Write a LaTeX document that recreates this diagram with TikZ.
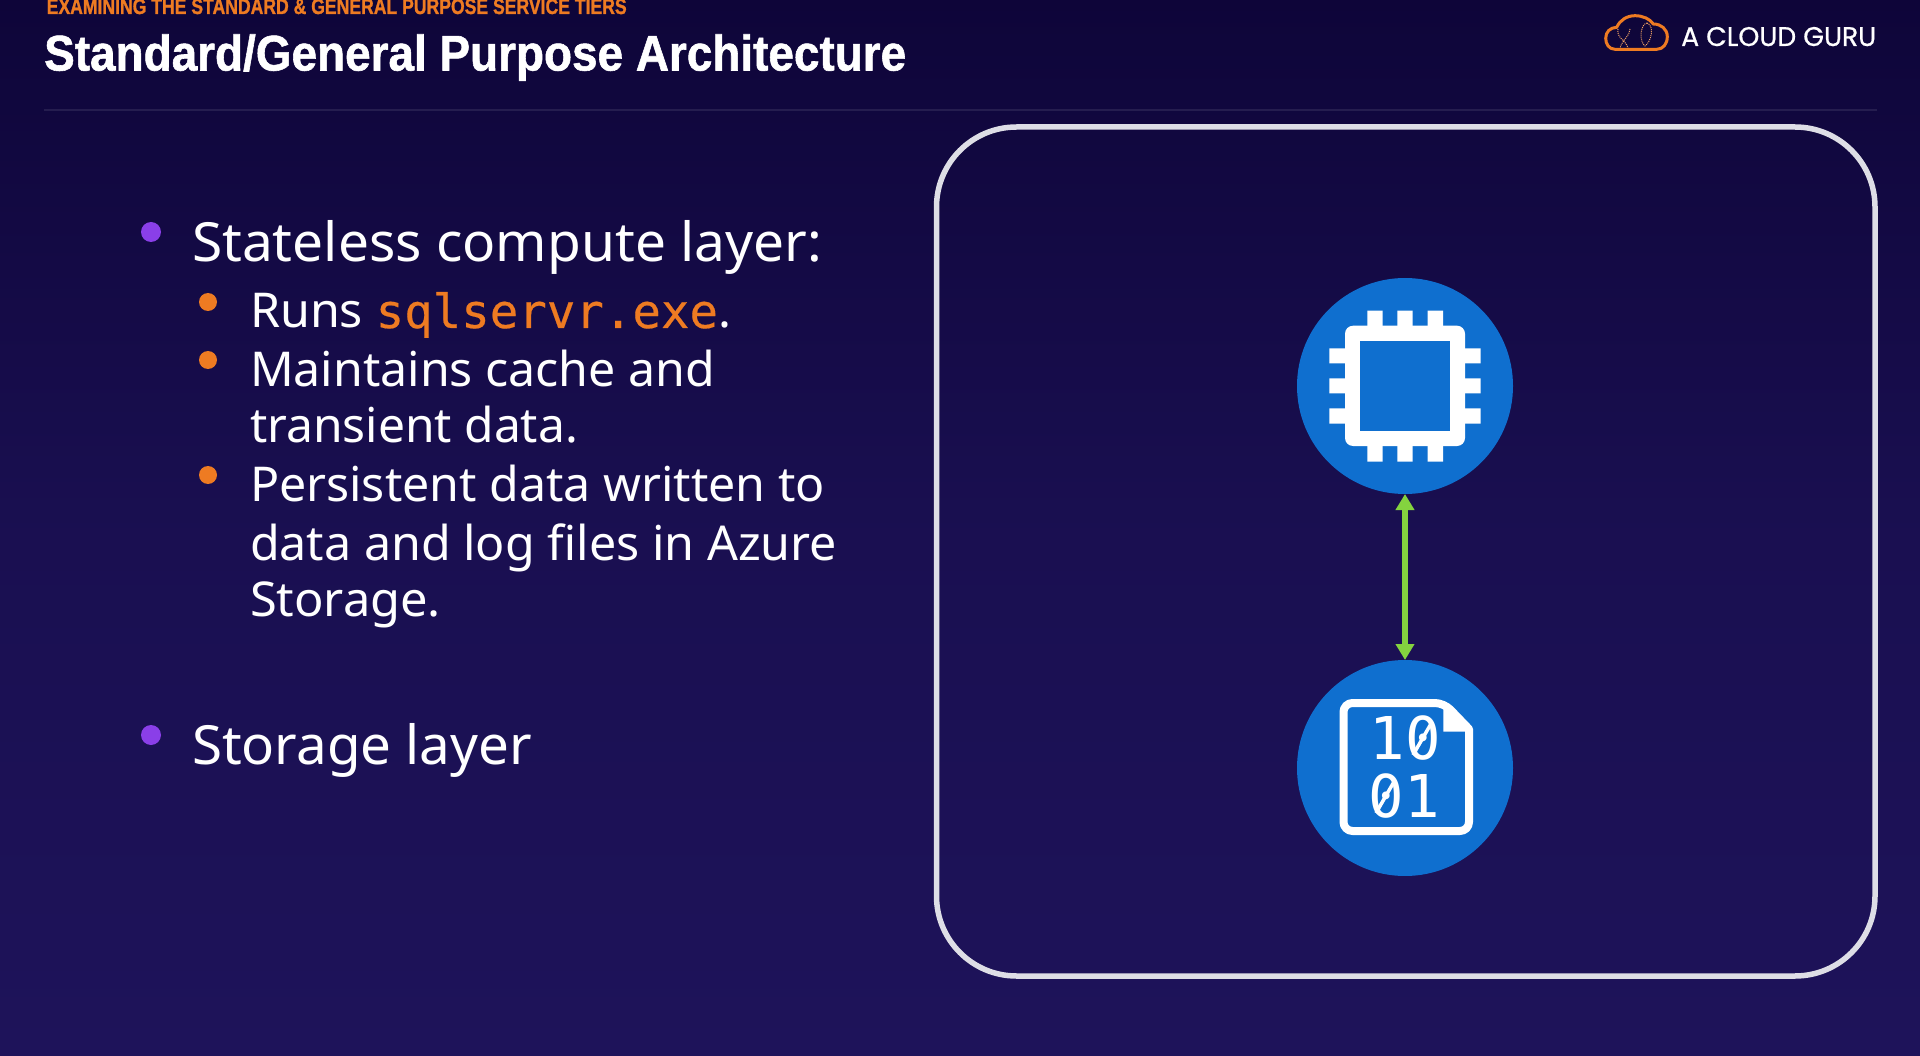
\documentclass[tikz,border=0pt]{standalone}
\usepackage{graphicx}
\usepackage{fontspec}
\setmainfont{Liberation Sans}
\newfontfamily\headface[FakeBold=1.2]{Liberation Sans Bold}
\newfontfamily\bodyfont{Noto Sans}
\newfontfamily\monoface[FakeBold=0.4]{DejaVu Sans Mono}
\newfontfamily\digitface{DejaVu Sans Mono}
\newfontfamily\logoface[FakeBold=0.7]{Poppins}
\usetikzlibrary{arrows.meta}
\definecolor{bgtop}{HTML}{0E0539}
\definecolor{bgbot}{HTML}{1E135A}
\definecolor{acgorange}{HTML}{EE7B22}
\definecolor{acgpurple}{HTML}{8A3FE8}
\definecolor{azblue}{HTML}{0F6FCF}
\definecolor{arrowgreen}{HTML}{84D33F}
\definecolor{framegray}{HTML}{DEDEE6}
\newcommand{\fitw}[2]{\resizebox{#1pt}{\height}{#2}}
\tikzset{
  bodytext/.style={anchor=base west,text=white,inner sep=0pt,outer sep=0pt,font=\bodyfont\fontsize{54}{60}\selectfont},
  subtext/.style={anchor=base west,text=white,inner sep=0pt,outer sep=0pt,font=\bodyfont\fontsize{48}{54}\selectfont},
  dotone/.style={circle,fill=acgpurple,minimum size=20,inner sep=0pt},
  dottwo/.style={circle,fill=acgorange,minimum size=18,inner sep=0pt},
  iconcircle/.style={circle,fill=azblue,minimum size=216,inner sep=0pt,outer sep=0pt},
  digits/.style={anchor=base,text=white,inner sep=0pt,font=\digitface\fontsize{59}{60}\selectfont}
}
\begin{document}
\begin{tikzpicture}[x=1pt,y=-1pt]
\useasboundingbox (0,0) rectangle (1920,1056);
\shade[top color=bgtop,bottom color=bgbot,middle color=bgbot!72!bgtop] (0,0) rectangle (1920,1056);
% header
\node[anchor=base west,inner sep=0pt,text=acgorange,font=\headface\fontsize{22}{24}\selectfont] (kicker) at (46.5,14) {\fitw{580}{EXAMINING THE STANDARD \& GENERAL PURPOSE SERVICE TIERS}};
\node[anchor=base west,inner sep=0pt,text=white,font=\headface\fontsize{50}{52}\selectfont] (title) at (44,70.5) {\fitw{862}{Standard/General Purpose Architecture}};
\fill[white,opacity=.09] (44,109.5) rectangle (1877,111.5);
% logo
\draw[acgorange,line width=3,line join=round] (1615,49.3) .. controls (1609,49.3) and (1605.7,44) .. (1605.7,38.3) .. controls (1605.7,32) and (1610,27.5) .. (1616.7,27.3) .. controls (1620,20) and (1627,15.7) .. (1635,15.7) .. controls (1643,15.7) and (1650,19) .. (1653.3,24) .. controls (1661,24) and (1667.3,29) .. (1667.3,36.7) .. controls (1667.3,44) and (1663,49.3) .. (1656.7,49.3) -- cycle;
\draw[acgorange!70!white,line width=1,densely dotted] (1618,29) .. controls (1616,38) and (1626,40) .. (1628,48) (1630,29) .. controls (1630,36) and (1622,40) .. (1620,48);
\draw[acgorange!70!white,line width=1,densely dotted] (1647,23) .. controls (1640,24) and (1639,42) .. (1645,46) .. controls (1651,42) and (1655,26) .. (1647,23);
\node[anchor=base west,inner sep=0pt,text=white,font=\logoface\fontsize{27}{30}\selectfont] (logo) at (1681,46) {\fitw{195}{A CLOUD GURU}};
% bullets
\node[dotone] (b1) at (151,232) {};
\node[bodytext] (t1) at (192,262) {\fitw{630}{Stateless compute layer:}};
\node[dottwo] (b2) at (208,302) {};
\node[subtext] (t2) at (250,328) {\fitw{481}{Runs {\monoface\fontsize{47}{54}\selectfont\textcolor{acgorange}{sqlservr.exe}}.}};
\node[dottwo] (b3) at (208,360) {};
\node[subtext] (t3) at (250,387) {\fitw{465}{Maintains cache and}};
\node[subtext] (t4) at (250,443) {\fitw{328}{transient data.}};
\node[dottwo] (b4) at (208,475) {};
\node[subtext] (t5) at (250,501) {\fitw{575}{Persistent data written to}};
\node[subtext] (t6) at (250,560) {\fitw{587}{data and log files in Azure}};
\node[subtext] (t7) at (250,616) {\fitw{191}{Storage.}};
\node[dotone] (b5) at (151,735) {};
\node[bodytext] (t8) at (192,764) {\fitw{340}{Storage layer}};
% frame
\draw[framegray,line width=5.5,rounded corners=80] (936.5,127) rectangle (1875,976);
% compute icon
\node[iconcircle] (cpu) at (1405,386) {};
\fill[white] (1367.3,310.7) rectangle +(15.3,151) (1397.3,310.7) rectangle +(15.3,151) (1427.7,310.7) rectangle +(15.3,151);
\fill[white] (1329.3,348.3) rectangle +(151.4,15) (1329.3,378.3) rectangle +(151.4,15) (1329.3,408.3) rectangle +(151.4,15.3);
\fill[white,rounded corners=8] (1345,325.7) rectangle (1465,446);
\fill[azblue] (1360,340.7) rectangle (1450,431);
% storage icon
\node[iconcircle] (file) at (1405,768) {};
\draw[white,line width=8,line join=round,rounded corners=9] (1343.5,703) -- (1444,703) [sharp corners] -- (1469,729) [rounded corners=9] -- (1469,831) -- (1343.5,831) -- cycle;
\fill[white] (1443.3,704) -- (1469,731.7) -- (1443.3,731.7) -- cycle;
\node[digits] (d1) at (1405,759.3) {10};
\node[digits] (d2) at (1404,817.3) {01};
\draw[white,line width=3.5] (1413,755) -- (1432,722);
\draw[white,line width=3.5] (1376,813) -- (1395,780);
% connector
\draw[arrowgreen,line width=6.5,{Triangle[width=18pt,length=16pt]}-{Triangle[width=18pt,length=16pt]}] (cpu) -- (file);
\end{tikzpicture}
\end{document}
